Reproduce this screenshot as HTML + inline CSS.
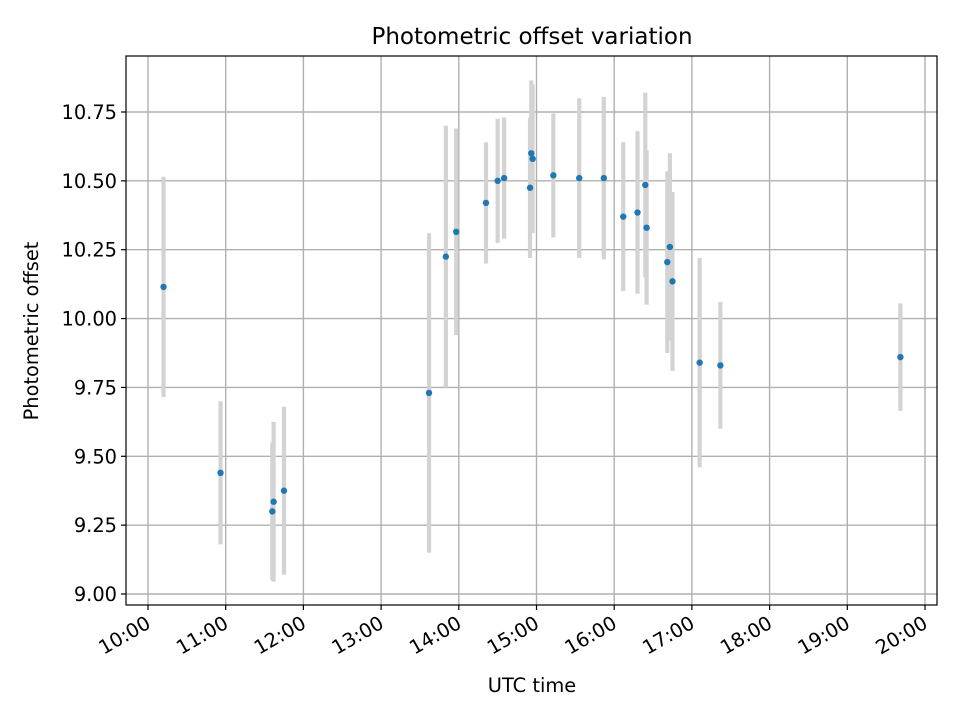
<!DOCTYPE html>
<html><head><meta charset="utf-8"><style>
body{margin:0;background:#fff}
svg text{font-family:"DejaVu Sans","Liberation Sans",sans-serif;fill:#000}
</style></head><body>
<svg id="chart" width="960" height="720" viewBox="0 0 960 720" xmlns="http://www.w3.org/2000/svg">
<rect width="960" height="720" fill="#fff"/>
<g id="grid"></g><g id="errs"></g><g id="pts"></g><g id="axes"></g>
<text x="532" y="44" font-size="23" text-anchor="middle">Photometric offset variation</text>
<text x="532" y="692" font-size="19.4" text-anchor="middle">UTC time</text>
<text x="38" y="331" font-size="19.4" text-anchor="middle" transform="rotate(-90 38 331)">Photometric offset</text>
</svg>
<script>
const times=["10:12","10:56","11:36","11:37","11:45","13:37","13:50","13:58","14:21","14:30","14:35","14:55","14:56","14:57","15:13","15:33","15:52","16:07","16:18","16:24","16:25","16:41","16:43","16:45","17:06","17:22","19:41"];
const offsets=[10.115,9.44,9.30,9.335,9.375,9.73,10.225,10.315,10.42,10.50,10.51,10.475,10.60,10.58,10.52,10.51,10.51,10.37,10.385,10.485,10.33,10.205,10.26,10.135,9.84,9.83,9.86];
const errors=[0.40,0.26,0.25,0.29,0.305,0.58,0.475,0.375,0.22,0.225,0.22,0.255,0.265,0.27,0.225,0.29,0.295,0.27,0.295,0.335,0.28,0.33,0.34,0.325,0.38,0.23,0.195];
const yTicks=[9.00,9.25,9.50,9.75,10.00,10.25,10.50,10.75];
const xTickLabels=["10:00","11:00","12:00","13:00","14:00","15:00","16:00","17:00","18:00","19:00","20:00"];
const NS="http://www.w3.org/2000/svg";
const L=126,R=937,T=56,B=605;
function toMin(s){const p=s.split(":");return +p[0]*60+ +p[1];}
function xs(m){return 148+(m-600)/60*77.7;}
function ys(v){return 594-(v-9)*275.43;}
function mk(tag,attrs,parent){const e=document.createElementNS(NS,tag);for(const k in attrs)e.setAttribute(k,attrs[k]);document.getElementById(parent).appendChild(e);return e;}
yTicks.forEach(v=>{
  const y=ys(v);
  const g=mk("line",{x1:L,x2:R,y1:y,y2:y,stroke:"#b0b0b0","stroke-width":1.4},"grid");
  
  
  mk("line",{x1:L-5,x2:L,y1:y,y2:y,stroke:"#000","stroke-width":1.2},"axes");
  const t=mk("text",{x:L-9,y:y+7,"font-size":19.4,"text-anchor":"end"},"axes");
  t.textContent=v.toFixed(2);
  
  
});
xTickLabels.forEach(s=>{
  const x=xs(toMin(s));
  const g=mk("line",{x1:x,x2:x,y1:T,y2:B,stroke:"#b0b0b0","stroke-width":1.4},"grid");
  
  
  mk("line",{x1:x,x2:x,y1:B,y2:B+5,stroke:"#000","stroke-width":1.2},"axes");
  const t=mk("text",{x:x+4,y:B+22,"font-size":19.4,"text-anchor":"end",transform:`rotate(-30 ${x+4} ${B+22})`},"axes");
  t.textContent=s;
  
  
});
times.forEach((s,i)=>{
  const x=xs(toMin(s));
  const e=mk("line",{x1:x,x2:x,y1:ys(offsets[i]+errors[i]),y2:ys(offsets[i]-errors[i]),stroke:"#d3d3d3","stroke-width":4.2},"errs");
  
  
  const c=mk("circle",{cx:x,cy:ys(offsets[i]),r:3.2,fill:"#1f77b4"},"pts");
  
  
});
const fr=mk("rect",{x:L,y:T,width:R-L,height:B-T,fill:"none",stroke:"#000","stroke-width":1.2},"axes");


</script>
</body></html>
